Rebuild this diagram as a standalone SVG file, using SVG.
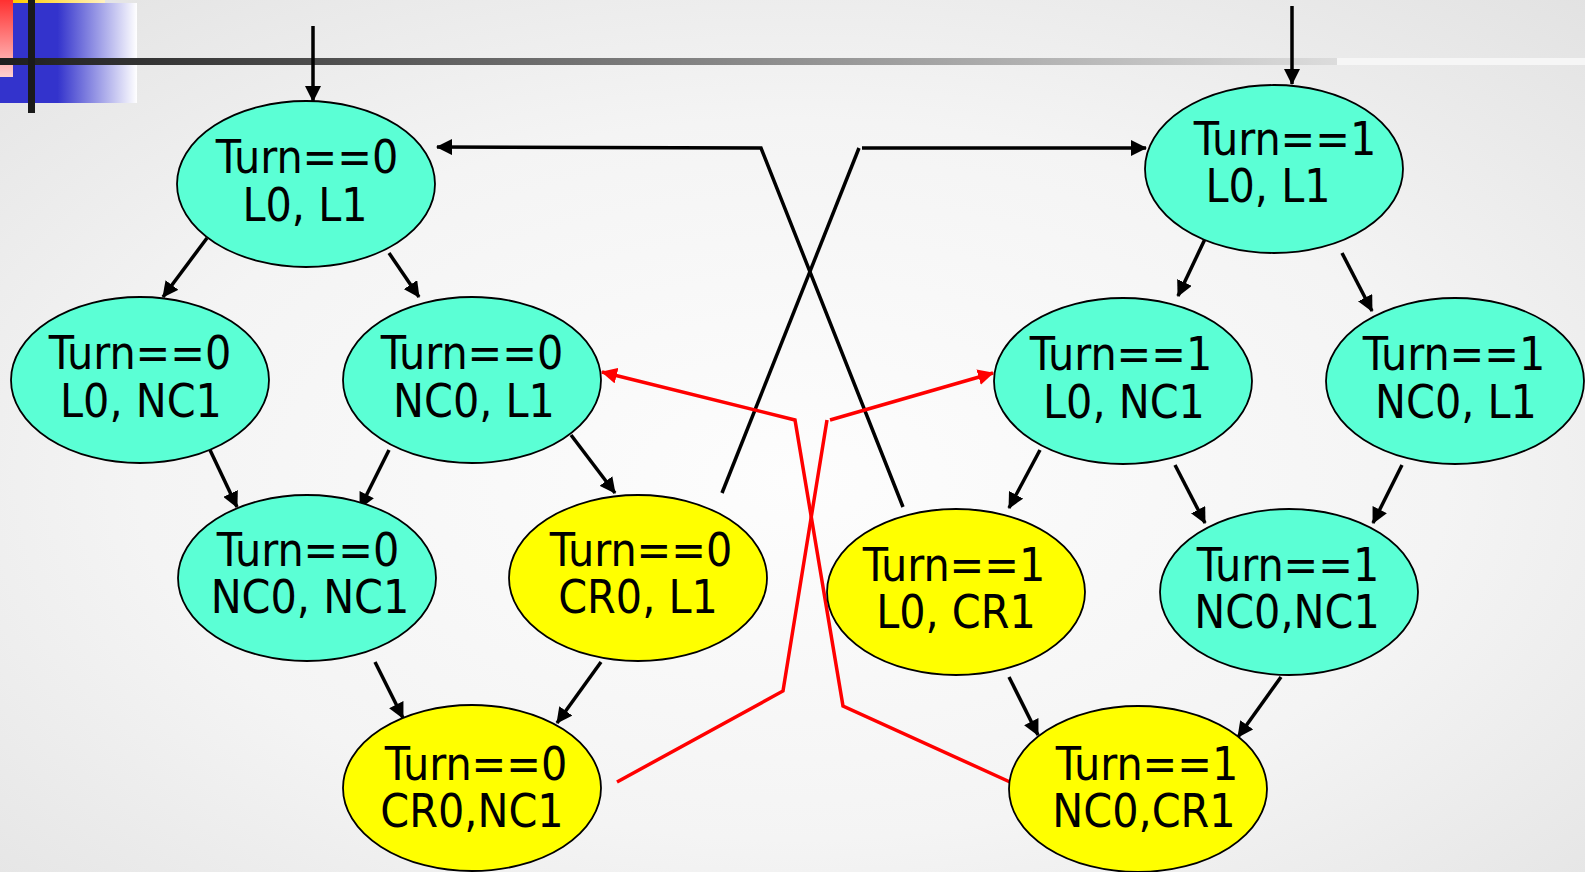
<svg xmlns="http://www.w3.org/2000/svg" width="1585" height="872" viewBox="0 0 1585 872">
  <defs>
    <radialGradient id="bg" cx="0.5" cy="0.55" r="0.75">
      <stop offset="0" stop-color="#fdfdfd"/>
      <stop offset="0.55" stop-color="#f4f4f4"/>
      <stop offset="1" stop-color="#e2e2e2"/>
    </radialGradient>
    <linearGradient id="rule" x1="0" y1="0" x2="1337" y2="0" gradientUnits="userSpaceOnUse">
      <stop offset="0" stop-color="#1e1e1e"/>
      <stop offset="0.3" stop-color="#5a5a5a"/>
      <stop offset="1" stop-color="#dcdcdc"/>
    </linearGradient>
    <linearGradient id="blueFade" x1="0" y1="0" x2="137" y2="0" gradientUnits="userSpaceOnUse">
      <stop offset="0" stop-color="#3333cc"/>
      <stop offset="0.42" stop-color="#3333cc"/>
      <stop offset="1" stop-color="#ffffff"/>
    </linearGradient>
    <linearGradient id="redFade" x1="0" y1="0" x2="0" y2="77" gradientUnits="userSpaceOnUse">
      <stop offset="0" stop-color="#ff3030"/>
      <stop offset="1" stop-color="#ffd0d0"/>
    </linearGradient>
    <linearGradient id="goldFade" x1="13" y1="0" x2="105" y2="0" gradientUnits="userSpaceOnUse">
      <stop offset="0" stop-color="#ffcc00"/>
      <stop offset="1" stop-color="#fff2c0"/>
    </linearGradient>
    <marker id="ah" markerUnits="userSpaceOnUse" markerWidth="16" markerHeight="16" refX="15" refY="8" orient="auto">
      <path d="M0,0 L16,8 L0,16 z" fill="#000"/>
    </marker>
    <marker id="ahRed" markerUnits="userSpaceOnUse" markerWidth="16" markerHeight="16" refX="15" refY="8" orient="auto">
      <path d="M0,0 L16,8 L0,16 z" fill="#ff0000"/>
    </marker>
  </defs>
  <style>
    .state { stroke: #000; stroke-width: 1.8; }
    .wait { fill: #5bffd5; }
    .crit { fill: #ffff00; }
    .label { font-family: "DejaVu Sans Condensed", "DejaVu Sans", sans-serif; font-stretch: condensed; font-size: 46px; fill: #000; text-anchor: middle; }
    .edge { fill: none; stroke: #000; stroke-width: 3.5; marker-end: url(#ah); }
    .cross { fill: none; stroke: #000; stroke-width: 3.5; stroke-linejoin: miter; }
    .fault { fill: none; stroke: #ff0000; stroke-width: 3.5; stroke-linejoin: miter; }
  </style>

  <!-- backdrop and title ornament -->
  <rect x="0" y="0" width="1585" height="872" fill="url(#bg)"/>
  <rect x="0" y="3" width="137" height="100" fill="url(#blueFade)"/>
  <rect x="13" y="0" width="92" height="3" fill="url(#goldFade)"/>
  <rect x="0" y="0" width="13" height="77" fill="url(#redFade)"/>
  <rect x="0" y="58" width="1337" height="7" fill="url(#rule)"/>
  <rect x="1337" y="58" width="248" height="7" fill="#f6f6f6"/>
  <rect x="28" y="0" width="7" height="113" fill="#1a1a1a"/>

  <!-- transitions -->
  <g id="connectors">
    <line class="edge" x1="313" y1="26" x2="313" y2="101"/>
    <line class="edge" x1="1292" y1="6" x2="1292" y2="84"/>
    <line class="edge" x1="207" y1="238" x2="163" y2="297"/>
    <line class="edge" x1="389" y1="253" x2="419" y2="297"/>
    <line class="edge" x1="210" y1="450" x2="237" y2="507"/>
    <line class="edge" x1="389" y1="450" x2="360" y2="508"/>
    <line class="edge" x1="571" y1="435" x2="615" y2="493"/>
    <line class="edge" x1="375" y1="662" x2="403" y2="718"/>
    <line class="edge" x1="601" y1="662" x2="557" y2="723"/>
    <line class="edge" x1="1205" y1="239" x2="1178" y2="296"/>
    <line class="edge" x1="1342" y1="253" x2="1372" y2="311"/>
    <line class="edge" x1="1040" y1="450" x2="1009" y2="508"/>
    <line class="edge" x1="1175" y1="465" x2="1205" y2="523"/>
    <line class="edge" x1="1402" y1="465" x2="1373" y2="523"/>
    <line class="edge" x1="1009" y1="677" x2="1038" y2="735"/>
    <line class="edge" x1="1281" y1="677" x2="1238" y2="737"/>
    <!-- turn hand-over links -->
    <polyline class="cross" points="722,493 859,148"/>
    <line class="cross" x1="862" y1="148" x2="1146" y2="148" marker-end="url(#ah)"/>
    <polyline class="cross" points="903,507 761,148 437,147" marker-end="url(#ah)"/>
    <!-- links that are not possible -->
    <polyline class="fault" points="617,782 783,691 827,420"/>
    <line class="fault" x1="830" y1="420" x2="993" y2="373" marker-end="url(#ahRed)"/>
    <polyline class="fault" points="1010,782 843,706 795,420 602,372" marker-end="url(#ahRed)"/>
  </g>

  <!-- states for turn 0 -->
  <g id="t0-l0-l1">
    <ellipse class="state wait" cx="306" cy="184" rx="129" ry="83"/>
    <text class="label" x="307" y="173">Turn==0</text>
    <text class="label" x="305" y="221">L0, L1</text>
  </g>
  <g id="t0-l0-nc1">
    <ellipse class="state wait" cx="140" cy="380" rx="129" ry="83"/>
    <text class="label" x="140" y="369">Turn==0</text>
    <text class="label" x="141" y="417">L0, NC1</text>
  </g>
  <g id="t0-nc0-l1">
    <ellipse class="state wait" cx="472" cy="380" rx="129" ry="83"/>
    <text class="label" x="472" y="369">Turn==0</text>
    <text class="label" x="474" y="417">NC0, L1</text>
  </g>
  <g id="t0-nc0-nc1">
    <ellipse class="state wait" cx="307" cy="578" rx="129" ry="83"/>
    <text class="label" x="308" y="566">Turn==0</text>
    <text class="label" x="310" y="613">NC0, NC1</text>
  </g>
  <g id="t0-cr0-l1">
    <ellipse class="state crit" cx="638" cy="578" rx="129" ry="83"/>
    <text class="label" x="641" y="566">Turn==0</text>
    <text class="label" x="638" y="613">CR0, L1</text>
  </g>
  <g id="t0-cr0-nc1">
    <ellipse class="state crit" cx="472" cy="788" rx="129" ry="83"/>
    <text class="label" x="476" y="780">Turn==0</text>
    <text class="label" x="472" y="827">CR0,NC1</text>
  </g>

  <!-- states for turn 1 -->
  <g id="t1-l0-l1">
    <ellipse class="state wait" cx="1274" cy="169" rx="129" ry="84"/>
    <text class="label" x="1285" y="155">Turn==1</text>
    <text class="label" x="1268" y="202">L0, L1</text>
  </g>
  <g id="t1-l0-nc1">
    <ellipse class="state wait" cx="1123" cy="381" rx="129" ry="83"/>
    <text class="label" x="1121" y="370">Turn==1</text>
    <text class="label" x="1124" y="418">L0, NC1</text>
  </g>
  <g id="t1-nc0-l1">
    <ellipse class="state wait" cx="1455" cy="381" rx="129" ry="83"/>
    <text class="label" x="1454" y="370">Turn==1</text>
    <text class="label" x="1456" y="418">NC0, L1</text>
  </g>
  <g id="t1-l0-cr1">
    <ellipse class="state crit" cx="956" cy="592" rx="129" ry="83"/>
    <text class="label" x="954" y="581">Turn==1</text>
    <text class="label" x="956" y="628">L0, CR1</text>
  </g>
  <g id="t1-nc0-nc1">
    <ellipse class="state wait" cx="1289" cy="592" rx="129" ry="83"/>
    <text class="label" x="1288" y="581">Turn==1</text>
    <text class="label" x="1287" y="628">NC0,NC1</text>
  </g>
  <g id="t1-nc0-cr1">
    <ellipse class="state crit" cx="1138" cy="789" rx="129" ry="83"/>
    <text class="label" x="1147" y="780">Turn==1</text>
    <text class="label" x="1144" y="827">NC0,CR1</text>
  </g>
</svg>
